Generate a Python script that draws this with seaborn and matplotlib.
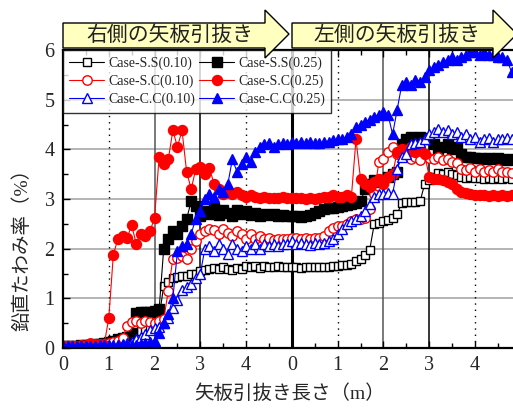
import matplotlib
matplotlib.use("Agg")
import matplotlib.pyplot as plt
from matplotlib.patches import Polygon
from matplotlib.ticker import MultipleLocator, FixedLocator
import pandas as pd
import seaborn as sns

# pull-out length along the combined axis (right pile 0-5 m, then left pile 0-5 m)
pull_length = [
    0.0, 0.1, 0.2, 0.3, 0.4, 0.5, 0.6, 0.7, 0.8, 0.9,
    1.0, 1.1, 1.2, 1.3, 1.4, 1.5, 1.6, 1.7, 1.8, 1.9,
    2.0, 2.1, 2.2, 2.3, 2.4, 2.5, 2.6, 2.7, 2.8, 2.9,
    3.0, 3.1, 3.2, 3.3, 3.4, 3.5, 3.6, 3.7, 3.8, 3.9,
    4.0, 4.1, 4.2, 4.3, 4.4, 4.5, 4.6, 4.7, 4.8, 4.9,
    5.0, 5.1, 5.2, 5.3, 5.4, 5.5, 5.6, 5.7, 5.8, 5.9,
    6.0, 6.1, 6.2, 6.3, 6.4, 6.5, 6.6, 6.7, 6.8, 6.9,
    7.0, 7.1, 7.2, 7.3, 7.4, 7.5, 7.6, 7.7, 7.8, 7.9,
    8.0, 8.1, 8.2, 8.3, 8.4, 8.5, 8.6, 8.7, 8.8, 8.9,
    9.0, 9.1, 9.2, 9.3, 9.4, 9.5, 9.6, 9.7, 9.8,
]

ss_010 = [
    0.04, 0.04, 0.04, 0.05, 0.05, 0.05, 0.06, 0.06, 0.07, 0.08,
    0.09, 0.11, 0.13, 0.16, 0.20, 0.24, 0.30, 0.34, 0.38, 0.43,
    0.50, 0.62, 1.25, 1.32, 1.40, 1.42, 1.45, 1.44, 1.48, 1.50,
    1.55, 1.58, 1.60, 1.62, 1.60, 1.63, 1.60, 1.58, 1.62, 1.60,
    1.65, 1.63, 1.66, 1.62, 1.65, 1.64, 1.63, 1.65, 1.63, 1.64,
    1.63, 1.63, 1.62, 1.63, 1.63, 1.64, 1.63, 1.64, 1.64, 1.65,
    1.66, 1.67, 1.68, 1.70, 1.75, 1.80, 1.88, 1.98, 2.50, 2.52,
    2.55, 2.58, 2.62, 2.70, 2.92, 2.93, 2.93, 2.94, 2.95, 3.30,
    3.38, 3.45, 3.52, 3.50, 3.55, 3.50, 3.48, 3.45, 3.42, 3.45,
    3.42, 3.42, 3.40, 3.42, 3.40, 3.42, 3.40, 3.42, 3.40,
]

ss_025 = [
    0.04, 0.04, 0.05, 0.05, 0.06, 0.06, 0.07, 0.08, 0.09, 0.10,
    0.12, 0.15, 0.18, 0.20, 0.22, 0.30, 0.70, 0.72, 0.73, 0.72,
    0.74, 0.78, 2.00, 2.20, 2.35, 2.30, 2.45, 2.60, 2.95, 2.85,
    2.65, 2.75, 2.70, 2.82, 2.68, 2.78, 2.72, 2.65, 2.78, 2.70,
    2.75, 2.68, 2.72, 2.65, 2.70, 2.68, 2.70, 2.66, 2.68, 2.66,
    2.66, 2.65, 2.64, 2.66, 2.68, 2.72, 2.75, 2.80, 2.82, 2.82,
    2.84, 2.86, 2.88, 2.90, 2.92, 2.95, 3.20, 3.30, 3.38, 3.35,
    3.38, 3.45, 3.50, 3.55, 4.10, 4.20, 4.25, 4.20, 4.25, 4.22,
    4.20, 4.10, 4.00, 4.05, 4.10, 4.00, 4.05, 3.90, 3.85, 3.85,
    3.82, 3.82, 3.80, 3.82, 3.80, 3.82, 3.80, 3.78, 3.80,
]

sc_010 = [
    0.04, 0.04, 0.05, 0.05, 0.06, 0.07, 0.10, 0.08, 0.08, 0.09,
    0.10, 0.12, 0.15, 0.20, 0.45, 0.52, 0.55, 0.50, 0.55, 0.52,
    0.50, 0.55, 0.58, 1.15, 1.80, 1.82, 1.85, 1.80, 2.00, 2.15,
    2.30, 2.35, 2.40, 2.38, 2.30, 2.40, 2.32, 2.25, 2.35, 2.30,
    2.20, 2.30, 2.20, 2.25, 2.20, 2.22, 2.18, 2.20, 2.20, 2.20,
    2.22, 2.22, 2.20, 2.22, 2.20, 2.22, 2.22, 2.25, 2.35, 2.42,
    2.45, 2.45, 2.50, 2.55, 2.60, 2.60, 2.62, 2.80, 3.10, 3.75,
    3.80, 3.95, 4.05, 3.90, 3.85, 3.95, 3.80, 3.85, 3.78, 3.90,
    3.82, 3.80, 3.85, 3.78, 3.80, 3.75, 3.72, 3.60, 3.58, 3.62,
    3.55, 3.60, 3.55, 3.58, 3.55, 3.60, 3.55, 3.55, 3.52,
]

sc_025 = [
    0.04, 0.04, 0.04, 0.05, 0.05, 0.05, 0.08, 0.06, 0.06, 0.07,
    0.60, 1.88, 2.20, 2.25, 2.22, 2.47, 2.10, 2.30, 2.25, 2.35,
    2.62, 3.85, 3.70, 3.80, 4.38, 4.05, 4.38, 3.55, 3.20, 3.60,
    3.65, 3.50, 3.62, 3.30, 3.20, 3.10, 3.15, 3.10, 3.15, 3.08,
    3.05, 3.08, 3.05, 3.03, 3.05, 3.02, 3.03, 3.02, 3.05, 3.03,
    3.02, 3.02, 3.03, 3.00, 3.02, 3.00, 3.02, 3.05, 3.05, 3.08,
    3.05, 3.05, 3.08, 3.05, 4.20, 3.40, 3.30, 3.25, 3.35, 3.40,
    3.30, 3.45, 3.50, 3.95, 4.00, 3.90, 4.05, 3.95, 4.00, 3.90,
    3.45, 3.40, 3.40, 3.38, 3.35, 3.30, 3.20, 3.15, 3.12, 3.10,
    3.08, 3.08, 3.08, 3.07, 3.08, 3.07, 3.08, 3.07, 3.08,
]

cc_010 = [
    0.04, 0.04, 0.04, 0.04, 0.05, 0.05, 0.05, 0.05, 0.06, 0.06,
    0.06, 0.06, 0.07, 0.08, 0.10, 0.12, 0.18, 0.22, 0.28, 0.36,
    0.40, 0.42, 0.50, 0.60, 0.80, 0.97, 1.17, 1.22, 1.28, 1.40,
    1.50, 2.00, 2.05, 1.95, 2.10, 2.00, 1.90, 2.10, 2.00, 1.95,
    2.05, 2.00, 2.10, 2.00, 2.10, 2.05, 2.10, 2.05, 2.10, 2.10,
    2.15, 2.10, 2.12, 2.10, 2.08, 2.12, 2.10, 2.12, 2.15, 2.20,
    2.30, 2.40, 2.50, 2.55, 2.60, 2.65, 2.75, 2.90, 3.05, 3.10,
    3.10, 3.12, 3.10, 3.60, 3.85, 3.90, 4.10, 4.12, 4.15, 4.20,
    4.30, 4.35, 4.40, 4.35, 4.38, 4.30, 4.35, 4.25, 4.30, 4.20,
    4.25, 4.15, 4.20, 4.22, 4.15, 4.20, 4.20, 4.22, 4.20,
]

cc_025 = [
    0.04, 0.04, 0.04, 0.04, 0.04, 0.05, 0.05, 0.05, 0.05, 0.05,
    0.05, 0.05, 0.06, 0.06, 0.06, 0.07, 0.07, 0.08, 0.10, 0.12,
    0.15, 0.30, 0.50, 0.68, 1.00, 1.95, 2.05, 2.10, 2.30, 2.60,
    2.75, 3.00, 3.10, 3.05, 3.20, 3.15, 3.30, 3.80, 3.55, 3.70,
    3.85, 3.75, 3.95, 4.05, 4.10, 4.12, 4.05, 4.10, 4.12, 4.10,
    4.15, 4.12, 4.15, 4.12, 4.15, 4.12, 4.12, 4.15, 4.15, 4.18,
    4.20, 4.20, 4.25, 4.30, 4.45, 4.50, 4.55, 4.60, 4.65, 4.70,
    4.75, 4.70, 4.30, 4.80, 5.30, 5.35, 5.30, 5.40, 5.35, 5.45,
    5.60, 5.65, 5.70, 5.75, 5.80, 5.85, 5.80, 5.85, 5.90, 5.95,
    5.95, 5.90, 5.95, 5.90, 5.90, 5.85, 5.85, 5.80, 5.55,
]

case_names = [
    "Case-S.S(0.10)", "Case-S.S(0.25)",
    "Case-S.C(0.10)", "Case-S.C(0.25)",
    "Case-C.C(0.10)", "Case-C.C(0.25)",
]
case_values = [ss_010, ss_025, sc_010, sc_025, cc_010, cc_025]

x_tick_labels = ["0", "1", "2", "3", "4", "0", "1", "2", "3", "4"]
stage_labels = ["右側の矢板引抜き", "左側の矢板引抜き"]

frames = [
    pd.DataFrame({"length": pull_length, "deflection": vals, "case": name})
    for name, vals in zip(case_names, case_values)
]
data = pd.concat(frames, ignore_index=True)

styles = {
    "Case-S.S(0.10)": dict(color="black", marker="s", mfc="white", ms=6.2),
    "Case-S.S(0.25)": dict(color="black", marker="s", mfc="black", ms=6.6),
    "Case-S.C(0.10)": dict(color="red", marker="o", mfc="white", ms=6.8),
    "Case-S.C(0.25)": dict(color="red", marker="o", mfc="red", ms=7.2),
    "Case-C.C(0.10)": dict(color="blue", marker="^", mfc="white", ms=7.2),
    "Case-C.C(0.25)": dict(color="blue", marker="^", mfc="blue", ms=7.6),
}

sns.set_style("ticks")
plt.rcParams["font.family"] = ["Liberation Serif", "Noto Sans CJK JP"]

W, H = 513, 412
fig = plt.figure(figsize=(W / 100, H / 100), dpi=100)
ax = fig.add_axes([63 / W, 1 - 348 / H, (W - 63) / W, (348 - 50) / H])

# reference lines behind the data
for yv in [1, 2, 3, 4, 5]:
    ax.axhline(yv, color="#a8a8a8", lw=1.2, zorder=0.5)
for xv in [1, 4, 6, 9]:
    ax.axvline(xv, color="black", lw=1.0, ls=(0, (1, 3.5)), zorder=0.5)
for xv, c in [(2, "#555555"), (3, "black"), (7, "#555555"), (8, "black")]:
    ax.axvline(xv, color=c, lw=1.1, zorder=0.5)
ax.axvline(5, color="black", lw=2.2, zorder=0.6)

for name in case_names:
    st = styles[name]
    sub = data[data["case"] == name]
    sns.lineplot(
        data=sub, x="length", y="deflection", ax=ax,
        estimator=None, sort=False, label=name,
        color=st["color"], lw=0.8,
        marker=st["marker"], markersize=st["ms"],
        markerfacecolor=st["mfc"], markeredgecolor=st["color"],
        markeredgewidth=1.0,
    )

ax.set_xlim(0, 9.83)
ax.set_ylim(0, 6)
ax.xaxis.set_major_locator(FixedLocator(list(range(10))))
ax.set_xticklabels(x_tick_labels)
ax.xaxis.set_minor_locator(MultipleLocator(0.5))
ax.yaxis.set_major_locator(MultipleLocator(1))
ax.yaxis.set_minor_locator(MultipleLocator(0.5))
ax.tick_params(axis="both", which="both", direction="in", top=True,
               right=False, width=1.0, color="black")
ax.tick_params(axis="both", which="major", length=5, labelsize=14.5, pad=6)
ax.tick_params(axis="both", which="minor", length=3.5)
ax.set_xlabel("")
ax.set_ylabel("")
for side in ["left", "bottom", "top"]:
    ax.spines[side].set_linewidth(1.6)
    ax.spines[side].set_color("black")
ax.spines["right"].set_visible(False)

handles, labels = ax.get_legend_handles_labels()
order = [0, 2, 4, 1, 3, 5]
leg = ax.legend(
    [handles[i] for i in order], [labels[i] for i in order],
    ncol=2, loc="upper left", bbox_to_anchor=(0, 1), borderaxespad=0,
    fontsize=10, handlelength=2.5, handletextpad=0.3, columnspacing=0.3,
    labelspacing=0.35, borderpad=0.45, frameon=True, fancybox=False,
)
leg.get_frame().set_edgecolor("black")
leg.get_frame().set_linewidth(1.0)
leg.set_zorder(5)

fig.text(290 / W, 1 - 394 / H, "矢板引抜き長さ（m）", ha="center", va="center",
         fontsize=14)
fig.text(22 / W, 1 - 245 / H, "鉛直たわみ率（%）", ha="center", va="center",
         rotation=90, fontsize=14)

# stage arrows above the axes
def to_fig(points):
    return [(px / W, 1 - py / H) for px, py in points]

arrow_shapes = [
    [(63, 23), (265, 23), (265, 10), (289, 34), (265, 58), (265, 48), (63, 48)],
    [(292, 23), (493, 23), (493, 10), (517, 34), (493, 58), (493, 48), (292, 48)],
]
text_centres = [(170, 36), (397, 36)]
for shape, (cx, cy), label in zip(arrow_shapes, text_centres, stage_labels):
    fig.patches.append(Polygon(to_fig(shape), closed=True, transform=fig.transFigure,
                               facecolor="#ffffc0", edgecolor="black", lw=1.0,
                               zorder=10))
    fig.text(cx / W, 1 - cy / H, label, ha="center", va="center", fontsize=15,
             color="#222222", zorder=11)

fig.savefig("out.png", dpi=100)
